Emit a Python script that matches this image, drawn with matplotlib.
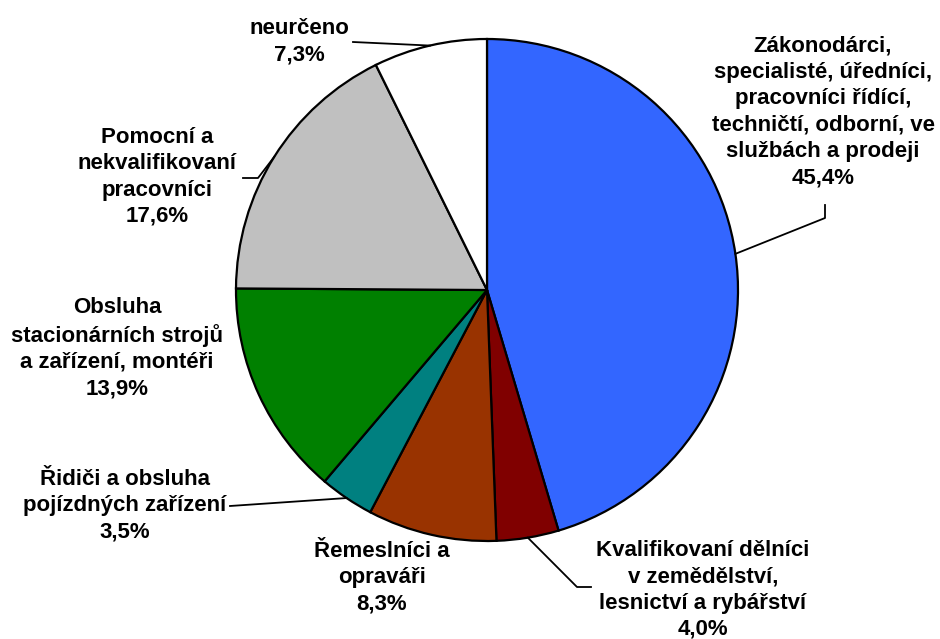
import matplotlib.pyplot as plt
import numpy as np

labels = ['Zákonodárci,\nspecialisté, úředníci,\npracovníci řídící,\ntechničtí, odborní, ve\nslužbách a prodeji',
          'Kvalifikovaní dělníci\nv zemědělství,\nlesnictví a rybářství',
          'Řemeslníci a\nopraváři',
          'Řidiči a obsluha\npojízdných zařízení',
          'Obsluha\nstacionárních strojů\na zařízení, montéři',
          'Pomocní a\nnekvalifikovaní\npracovníci',
          'neurčeno']
values = [45.4, 4.0, 8.3, 3.5, 13.9, 17.6, 7.3]
colors = ['#3366FF', '#800000', '#993300', '#008080', '#008000', '#C0C0C0', '#FFFFFF']

# label text centres (pixels, from top-left)
label_pos = [(823, 112), (703, 590), (382, 578), (125, 506), (117, 348), (157, 177), (299, 42)]
# leader line points after the arc point (pixels), None = no leader
leaders = [[(825, 218), (825, 205)],
           [(577, 587), (591, 587)],
           None,
           [(230, 506)],
           None,
           [(258, 178), (243, 178)],
           [(353, 42)]]

W, H = 940, 639
cx, cy, r = 487, H - 290, 251

fig = plt.figure(figsize=(9.4, 6.39), dpi=100)
ax = fig.add_axes([0, 0, 1, 1])
ax.set_xlim(0, W)
ax.set_ylim(0, H)
ax.set_aspect('equal')
ax.axis('off')

wedges, _ = ax.pie(values, colors=colors, startangle=90, counterclock=False,
                   center=(cx, cy), radius=r,
                   wedgeprops=dict(edgecolor='black', linewidth=1.6))
ax.set_xlim(0, W)
ax.set_ylim(0, H)

font = ['Liberation Sans', 'DejaVu Sans']
for i, (lab, v) in enumerate(zip(labels, values)):
    txt = lab + '\n' + ('%.1f%%' % v).replace('.', ',')
    x, y = label_pos[i]
    ax.text(x, H - y, txt, ha='center', va='center', fontsize=16, fontweight='bold',
            family=font, linespacing=1.33)
    if leaders[i] is not None:
        w = wedges[i]
        mid = np.deg2rad((w.theta1 + w.theta2) / 2)
        pts = [(cx + r * np.cos(mid), cy + r * np.sin(mid))]
        pts += [(px, H - py) for px, py in leaders[i]]
        xs, ys = zip(*pts)
        ax.plot(xs, ys, color='black', linewidth=1.3)

fig.savefig('out.png', dpi=100)
